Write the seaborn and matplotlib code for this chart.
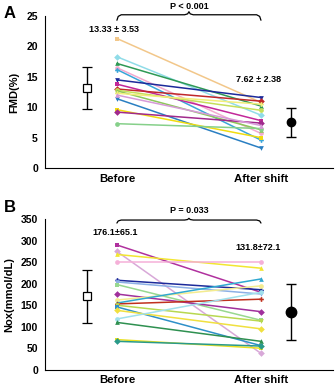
import matplotlib
matplotlib.use("Agg")
import matplotlib.pyplot as plt
import seaborn as sns
import pandas as pd
import numpy as np

sns.set_style("white")
plt.rcParams['font.family'] = ['Liberation Sans', 'DejaVu Sans']
plt.rcParams['font.weight'] = 'bold'
plt.rcParams['text.color'] = 'black'
plt.rcParams['xtick.color'] = 'black'
plt.rcParams['ytick.color'] = 'black'
plt.rcParams['axes.labelcolor'] = 'black'

# ---------- Data ----------
categories = ["Before", "After shift"]

fmd_before = [21.3, 18.3, 17.2, 16.5, 16.2, 14.5, 13.8, 13.0, 12.8, 12.7, 12.3, 11.4, 9.6, 9.2, 7.3, 12.0]
fmd_after  = [10.8, 8.7, 10.2, 5.7, 4.6, 11.6, 7.8, 11.0, 9.5, 6.3, 10.5, 3.3, 5.0, 7.4, 6.5, 7.0]
fmd_colors = ['#F2C78A', '#90DCE8', '#2E9955', '#F2AACF', '#3AA6D9', '#1C2A9A', '#C2289A', '#C0282A',
              '#C5DF5A', '#8DC85A', '#F2EE7A', '#2A7FC2', '#F0DC10', '#A02A8C', '#86D08A', '#D69AD8']
fmd_mean_shown = [13.1, 7.5]
fmd_err_shown = [3.45, 2.35]
fmd_labels = ["13.33 \u00b1 3.53", "7.62 \u00b1 2.38"]
fmd_p = "P < 0.001"

nox_before = [290, 275, 268, 250, 208, 204, 198, 176, 162, 155, 153, 150, 146, 138, 118, 110, 70, 66]
nox_after  = [180, 38, 236, 250, 186, 176, 115, 135, 195, 211, 164, 113, 56, 95, 180, 66, 50, 55]
nox_colors = ['#B0309E', '#D8A8D8', '#F2E632', '#F5B0D8', '#1C2A9A', '#8CB0E6', '#98D890', '#A0309C',
              '#F4EC90', '#30A8D0', '#C0301E', '#B8D850', '#2E90C8', '#F0E040', '#A0E0EC', '#2E9050',
              '#E8E020', '#2A9A8A']
nox_mean_shown = [171, 135]
nox_err_shown = [62, 65]
nox_labels = ["176.1\u00b165.1", "131.8\u00b172.1"]
nox_p = "P = 0.033"

markers_cycle = ['s', 'D', '^', 'o', 'P', 'v', 's', 'D', 'o', '^', 'P', 'v', 's', 'D', 'o', '^', 's', 'D']


def long_df(before, after):
    rows = []
    for i, (b, a) in enumerate(zip(before, after)):
        rows.append({"subject": i, "x": 1, "value": b})
        rows.append({"subject": i, "x": 2, "value": a})
    return pd.DataFrame(rows)


def brace(ax, y_hook, y_line, y_peak, x0=1.0, x1=2.0, xm=1.5):
    d = 0.03
    xs = [x0, x0 + d * 0.3, x0 + d, xm - d, xm - d * 0.3, xm, xm + d * 0.3, xm + d, x1 - d, x1 - d * 0.3, x1]
    ys = [y_hook, y_line - (y_line - y_hook) * 0.3, y_line, y_line, y_line + (y_peak - y_line) * 0.3, y_peak,
          y_line + (y_peak - y_line) * 0.3, y_line, y_line, y_line - (y_line - y_hook) * 0.3, y_hook]
    ax.plot(xs, ys, color='black', lw=0.9, clip_on=False, solid_capstyle='round')


def panel(ax, before, after, colors, means, errs, labels, ptxt, ylim, yticks, ylabel,
          lab_pos, brace_y, ptxt_y, ms_after):
    df = long_df(before, after)
    n = len(before)
    sns.lineplot(data=df, x="x", y="value", hue="subject", style="subject",
                 palette=colors, markers=markers_cycle[:n], dashes=False,
                 markersize=3.4, markeredgewidth=0, lw=1.1, legend=False, ax=ax)
    # means
    ax.errorbar([0.79], [means[0]], yerr=[errs[0]], fmt='s', mfc='white', mec='black', mew=0.9,
                ms=6, ecolor='black', elinewidth=1.0, capsize=3.5, capthick=1.0, zorder=5)
    ax.errorbar([2.21], [means[1]], yerr=[errs[1]], fmt='o', mfc='black', mec='black',
                ms=ms_after, ecolor='black', elinewidth=1.0, capsize=3.5, capthick=1.0, zorder=5)
    ax.set_xlim(0.5, 2.5)
    ax.set_ylim(*ylim)
    ax.set_yticks(yticks)
    ax.set_yticklabels([str(t) for t in yticks], fontsize=7.5, fontweight='bold')
    ax.set_xticks([0.5, 1.5, 2.5])
    ax.set_xticklabels([])
    ax.set_xticks([1, 2], minor=True)
    ax.set_xticklabels(categories, minor=True, fontsize=8.2, fontweight='bold')
    ax.tick_params(axis='x', which='minor', length=0, pad=4)
    ax.tick_params(axis='x', which='major', length=3, width=0.8, direction='out')
    ax.tick_params(axis='y', length=3, width=0.8, direction='out', pad=2)
    ax.set_xlabel("")
    ax.set_ylabel(ylabel, fontsize=8, fontweight='bold', labelpad=5)
    for s in ['top', 'right']:
        ax.spines[s].set_visible(False)
    for s in ['left', 'bottom']:
        ax.spines[s].set_linewidth(0.8)
        ax.spines[s].set_color('black')
    ax.text(lab_pos[0][0], lab_pos[0][1], labels[0], ha='center', va='center', fontsize=6.5, fontweight='bold')
    ax.text(lab_pos[1][0], lab_pos[1][1], labels[1], ha='center', va='center', fontsize=6.5, fontweight='bold')
    brace(ax, *brace_y)
    ax.text(1.5, ptxt_y, ptxt, ha='center', va='center', fontsize=6.5, fontweight='bold', clip_on=False)


fig = plt.figure(figsize=(3.35, 3.9), dpi=100)
axA = fig.add_axes([0.134, 0.569, 0.86, 0.39])
axB = fig.add_axes([0.134, 0.052, 0.86, 0.386])

panel(axA, fmd_before, fmd_after, fmd_colors, fmd_mean_shown, fmd_err_shown, fmd_labels, fmd_p,
      (0, 25), [0, 5, 10, 15, 20, 25], "FMD(%)",
      [(0.98, 22.7), (1.98, 14.5)], (24.3, 25.2, 25.7), 26.6, 6)
panel(axB, nox_before, nox_after, nox_colors, nox_mean_shown, nox_err_shown, nox_labels, nox_p,
      (0, 350), [0, 50, 100, 150, 200, 250, 300, 350], "Nox(mmol/dL)",
      [(0.99, 320), (1.98, 284)], (341, 348, 352), 370, 7.5)

fig.text(0.012, 0.985, "A", fontsize=12, fontweight='bold', va='top', ha='left')
fig.text(0.012, 0.488, "B", fontsize=12, fontweight='bold', va='top', ha='left')

fig.savefig("out.png", dpi=100)
